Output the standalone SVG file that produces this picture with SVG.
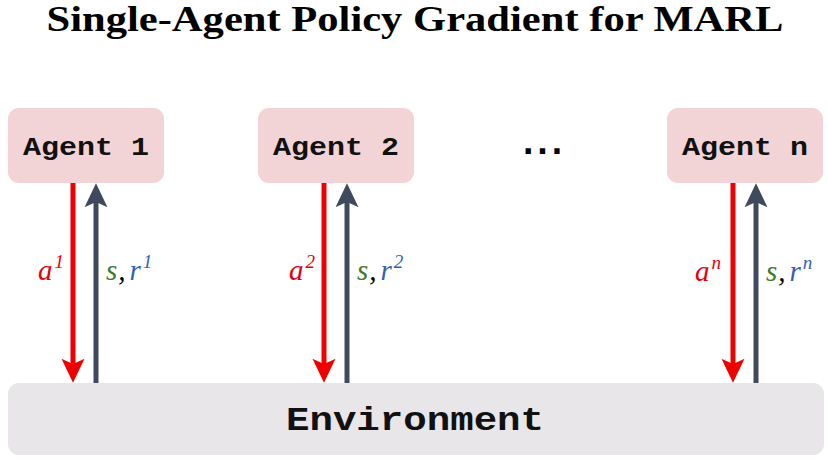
<svg xmlns="http://www.w3.org/2000/svg" width="828" height="460" viewBox="0 0 828 460">
<defs>
<style>
.title{font-family:"Liberation Serif",serif;font-weight:bold;font-size:36px;fill:#000}
.agent rect{fill:#f2d3d6}
.mono{font-family:"Liberation Mono","DejaVu Sans Mono",monospace;font-weight:bold;fill:#111}
.math{font-family:"Liberation Serif","DejaVu Serif",serif;font-style:italic;font-size:29px}
.sup{font-size:19px}
.act{stroke:#ee0000;stroke-width:5;fill:none}
.obs{stroke:#404a5e;stroke-width:5;fill:none}
.red{fill:#e3000f}
.grn{fill:#3d7a2a}
.blu{fill:#3462b0}
</style>
<marker id="ahRed" markerUnits="userSpaceOnUse" markerWidth="24" markerHeight="24" viewBox="0 0 23 22" refX="5" refY="11" orient="auto">
<path d="M0,0 L23,11 L0,22 L5,11 z" fill="#ee0000"/>
</marker>
<marker id="ahDark" markerUnits="userSpaceOnUse" markerWidth="24" markerHeight="24" viewBox="0 0 23 22" refX="5" refY="11" orient="auto">
<path d="M0,0 L23,11 L0,22 L5,11 z" fill="#404a5e"/>
</marker>
</defs>
<rect width="828" height="460" fill="#ffffff"/>
<text class="title" x="415" y="31" text-anchor="middle" textLength="737" lengthAdjust="spacingAndGlyphs">Single-Agent Policy Gradient for MARL</text>

<g id="environment">
<rect x="8" y="383" width="816" height="72" rx="11" fill="#e8e6e8"/>
<text class="mono" x="415" y="430" font-size="33" text-anchor="middle" textLength="258" lengthAdjust="spacingAndGlyphs">Environment</text>
</g>

<g id="connectors">
<line class="act" x1="73" y1="183" x2="73" y2="364" marker-end="url(#ahRed)"/>
<line class="obs" x1="96" y1="383" x2="96" y2="202" marker-end="url(#ahDark)"/>
<line class="act" x1="324" y1="183" x2="324" y2="364" marker-end="url(#ahRed)"/>
<line class="obs" x1="347" y1="383" x2="347" y2="202" marker-end="url(#ahDark)"/>
<line class="act" x1="733" y1="183" x2="733" y2="364" marker-end="url(#ahRed)"/>
<line class="obs" x1="756" y1="383" x2="756" y2="202" marker-end="url(#ahDark)"/>
</g>

<g id="agent1" class="agent">
<rect x="8" y="108" width="156" height="75" rx="11"/>
<text class="mono" x="86" y="155" font-size="26" text-anchor="middle" textLength="126" lengthAdjust="spacingAndGlyphs">Agent 1</text>
</g>
<g id="agent2" class="agent">
<rect x="258" y="108" width="156" height="75" rx="11"/>
<text class="mono" x="336" y="155" font-size="26" text-anchor="middle" textLength="126" lengthAdjust="spacingAndGlyphs">Agent 2</text>
</g>
<g id="ellipsis">
<text x="544" y="154" font-family="'DejaVu Sans',sans-serif" font-weight="bold" font-size="30" letter-spacing="3" text-anchor="middle">...</text>
</g>
<g id="agentn" class="agent">
<rect x="667" y="108" width="156" height="75" rx="11"/>
<text class="mono" x="745" y="155" font-size="26" text-anchor="middle" textLength="126" lengthAdjust="spacingAndGlyphs">Agent n</text>
</g>

<g id="labels">
<text class="math red" x="38" y="280">a<tspan class="sup" dx="2" dy="-12">1</tspan></text>
<text class="math" x="106" y="280"><tspan class="grn">s</tspan><tspan fill="#000" dx="1">,</tspan><tspan class="blu" dx="4">r</tspan><tspan class="sup blu" dx="2" dy="-12">1</tspan></text>
<text class="math red" x="289" y="280">a<tspan class="sup" dx="2" dy="-12">2</tspan></text>
<text class="math" x="357" y="280"><tspan class="grn">s</tspan><tspan fill="#000" dx="1">,</tspan><tspan class="blu" dx="4">r</tspan><tspan class="sup blu" dx="2" dy="-12">2</tspan></text>
<text class="math red" x="695" y="281">a<tspan class="sup" dx="2" dy="-12">n</tspan></text>
<text class="math" x="766" y="281"><tspan class="grn">s</tspan><tspan fill="#000" dx="1">,</tspan><tspan class="blu" dx="4">r</tspan><tspan class="sup blu" dx="2" dy="-12">n</tspan></text>
</g>
</svg>
